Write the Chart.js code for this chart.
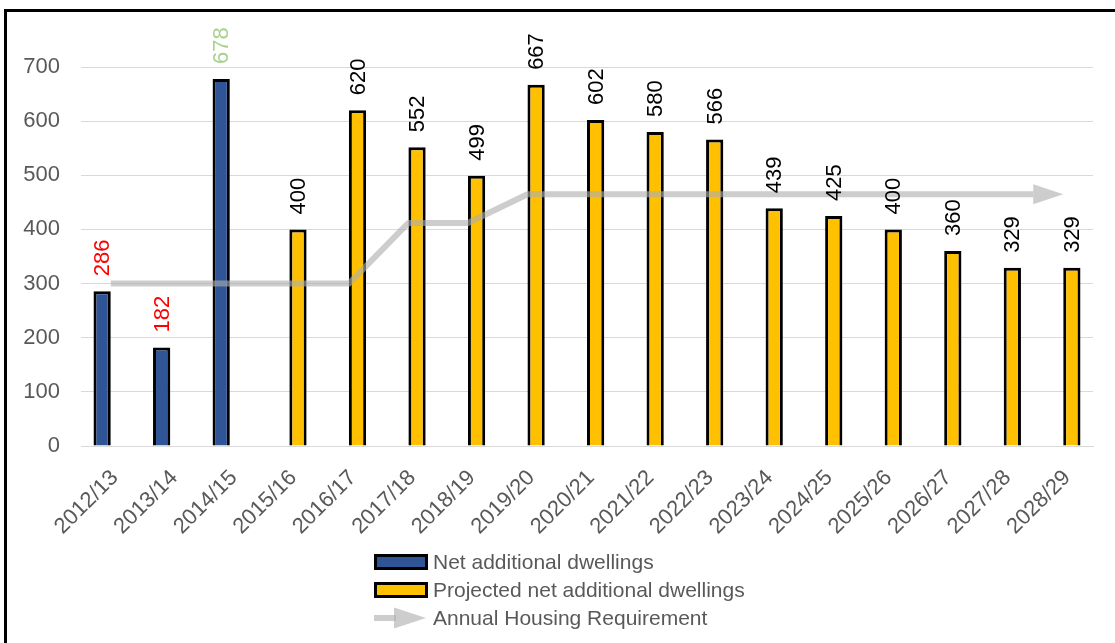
<!DOCTYPE html>
<html><head><meta charset="utf-8">
<script src="https://cdn.jsdelivr.net/npm/chart.js@4"></script>
<style>
html,body{margin:0;padding:0;background:#fff;overflow:hidden;width:1115px;height:643px}
#frame{position:absolute;left:4px;top:9px;width:3000px;height:3000px;border-left:3px solid #000;border-top:3px solid #000}
#wrap{position:absolute;left:0;top:0;width:1115px;height:643px}
</style></head><body>
<div id="frame"></div>
<div id="wrap"><canvas id="c" width="1115" height="643"></canvas></div>
<script>
const categories = ['2012/13','2013/14','2014/15','2015/16','2016/17','2017/18','2018/19','2019/20','2020/21','2021/22','2022/23','2023/24','2024/25','2025/26','2026/27','2027/28','2028/29'];
const netAdditionalDwellings = [286,182,678,null,null,null,null,null,null,null,null,null,null,null,null,null,null];
const projectedNetAdditionalDwellings = [null,null,null,400,620,552,499,667,602,580,566,439,425,400,360,329,329];
const annualHousingRequirement = [300,300,300,300,300,412,412,465,465,465,465,465,465,465,465,465,465];
const yTicks = [0,100,200,300,400,500,600,700];
const seriesNames = ['Net additional dwellings','Projected net additional dwellings','Annual Housing Requirement'];

const FONT = '"Liberation Sans", Arial, sans-serif';
const netLabelColours = ['#FF0000','#FF0000','#A9D18E'];
const BLUE = '#2F5597', YELLOW = '#FFC000', LINE = 'rgba(175,175,175,0.62)';

const valueLabels = {
  id: 'valueLabels',
  afterDatasetsDraw(chart) {
    const ctx = chart.ctx;
    [0,1].forEach(di => {
      const meta = chart.getDatasetMeta(di);
      const ds = chart.data.datasets[di];
      meta.data.forEach((bar, i) => {
        const v = ds.data[i];
        if (v === null || v === undefined) return;
        ctx.save();
        ctx.translate(bar.x + 1, bar.y - 15);
        ctx.rotate(-Math.PI / 2);
        ctx.font = '22px ' + FONT;
        ctx.fillStyle = di === 0 ? netLabelColours[i] : '#000000';
        ctx.textAlign = 'left';
        ctx.textBaseline = 'middle';
        ctx.fillText(String(v), 0, 0);
        ctx.restore();
      });
    });
  }
};

const arrowHead = {
  id: 'arrowHead',
  beforeDatasetDraw(chart, args) {
    if (args.index !== 2) return;
    const pts = args.meta.data;
    const last = pts[pts.length - 1];
    const ctx = chart.ctx;
    ctx.save();
    ctx.beginPath();
    ctx.rect(0, 0, last.x - 30, chart.height);
    ctx.clip();
  },
  afterDatasetDraw(chart, args) {
    if (args.index !== 2) return;
    const ctx = chart.ctx;
    ctx.restore();
    const pts = args.meta.data;
    const last = pts[pts.length - 1];
    ctx.save();
    ctx.fillStyle = LINE;
    ctx.beginPath();
    ctx.moveTo(last.x, last.y);
    ctx.lineTo(last.x - 30, last.y - 10);
    ctx.lineTo(last.x - 30, last.y + 10);
    ctx.closePath();
    ctx.fill();
    ctx.restore();
  }
};

const customLegend = {
  id: 'customLegend',
  afterDraw(chart) {
    const ctx = chart.ctx;
    const x0 = 374, y0 = 562, rowH = 28;
    chart.data.datasets.forEach((ds, i) => {
      const y = y0 + i * rowH;
      ctx.save();
      if (ds.type === 'line') {
        ctx.fillStyle = LINE;
        ctx.fillRect(x0, y - 3, 22, 6);
        ctx.beginPath();
        ctx.moveTo(x0 + 52, y);
        ctx.lineTo(x0 + 20, y - 10.5);
        ctx.lineTo(x0 + 20, y + 10.5);
        ctx.closePath();
        ctx.fill();
      } else {
        ctx.fillStyle = ds.backgroundColor;
        ctx.fillRect(x0, y - 7, 53, 14);
        ctx.strokeStyle = '#000';
        ctx.lineWidth = 3;
        ctx.strokeRect(x0 + 1.5, y - 7 + 0.5, 51, 13);
      }
      ctx.font = '21px ' + FONT;
      ctx.fillStyle = '#595959';
      ctx.textAlign = 'left';
      ctx.textBaseline = 'middle';
      ctx.fillText(ds.label, x0 + 59, y + 1);
      ctx.restore();
    });
  }
};

new Chart(document.getElementById('c'), {
  data: {
    labels: categories,
    datasets: [
      { type: 'bar', label: seriesNames[0], data: netAdditionalDwellings, backgroundColor: BLUE, borderColor: '#000', borderWidth: 3, order: 1, categoryPercentage: 0.58, barPercentage: 1 },
      { type: 'bar', label: seriesNames[1], data: projectedNetAdditionalDwellings, backgroundColor: YELLOW, borderColor: '#000', borderWidth: 3, order: 1, categoryPercentage: 0.58, barPercentage: 1 },
      { type: 'line', label: seriesNames[2], data: annualHousingRequirement, borderColor: LINE, backgroundColor: LINE, borderWidth: 6, pointRadius: 0, tension: 0, order: 0, borderJoinStyle: 'round' }
    ]
  },
  options: {
    responsive: false,
    animation: false,
    layout: { padding: { top: 67, right: 22, bottom: 0, left: 0 } },
    plugins: { legend: { display: false }, tooltip: { enabled: false } },
    scales: {
      x: {
        grid: { display: false, drawTicks: false },
        border: { display: true, color: '#d9d9d9', width: 1 },
        ticks: { maxRotation: 45, minRotation: 45, color: '#595959', font: { family: FONT, size: 22 }, padding: 19, labelOffset: 4, autoSkip: false },
        afterFit(s) { s.height = 643 - 446; }
      },
      y: {
        min: 0, max: 700,
        afterBuildTicks(s) { s.ticks = yTicks.map(v => ({ value: v })); },
        grid: { color: '#d9d9d9', lineWidth: 1, drawTicks: false },
        border: { display: false },
        ticks: { color: '#595959', font: { family: FONT, size: 22 }, padding: 21 },
        afterFit(s) { s.width = 81; }
      }
    }
  },
  plugins: [valueLabels, arrowHead, customLegend]
});
</script>
</body></html>
